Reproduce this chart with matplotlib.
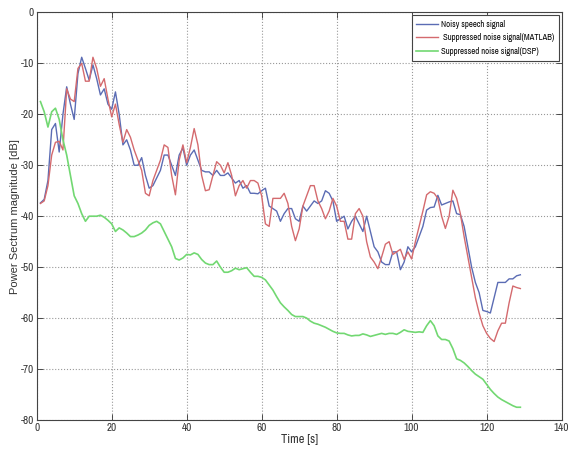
import numpy as np
import matplotlib
matplotlib.use("Agg")
from matplotlib import pyplot as plt

# valores (1 muestra por segundo)
tiempo = list(range(1, 130))

ruidosa = [-37.4, -36.7, -33, -23, -21.8, -27.4, -20, -14.6, -18, -21,
           -12, -8.8, -11, -13.3, -10.3, -13, -16.2, -15, -18, -19,
           -15.6, -20, -26, -25, -27, -30, -30, -28.5, -32, -34.5,
           -34, -32.5, -31, -28, -28, -30, -32, -28, -26.6, -30,
           -28, -27, -29, -31, -31.3, -31.3, -32, -31, -32, -32,
           -31.5, -32.5, -33.5, -33, -34.5, -34, -35.5, -35.5, -35.6, -35,
           -34.5, -38, -38.5, -39, -41, -39.5, -38.5, -38.5, -40.5, -41,
           -38, -39, -38, -37, -37.5, -37, -35, -35.5, -37, -41,
           -40.5, -40, -42.5, -41, -40, -41.5, -43, -40, -43, -46,
           -47, -49, -49.5, -49.5, -47, -47, -50.5, -49, -46, -47,
           -46, -44, -42, -38.8, -38.3, -38.2, -35.9, -37.8, -37.5, -37.2,
           -37, -39.5, -39.7, -42, -46, -50, -53, -55, -58.5, -58.7,
           -59, -56, -53, -53, -53, -52.3, -52.3, -51.7, -51.5]

matlab = [-37.5, -37, -34, -28, -25.5, -25.3, -27, -15, -17, -17.5,
          -11, -10, -13.5, -13.5, -8.8, -11, -14.5, -13, -17, -20.5,
          -18, -22, -25.5, -23, -24.5, -27, -29, -31, -35.5, -36,
          -33, -31, -29, -26, -26.5, -32, -35.8, -29, -26, -29.5,
          -26.5, -22.8, -26, -32, -35, -34.8, -32, -29.3, -30, -31.5,
          -29.5, -32, -36, -34, -33, -34.5, -33, -33, -33.5, -36,
          -41.5, -42, -36.5, -36.5, -36.5, -35.5, -37.5, -42, -44.8, -42.5,
          -38, -36, -34, -34, -37, -38.5, -40.5, -39, -36.5, -38,
          -41, -41, -44.5, -44.5, -39.5, -38.5, -40, -45, -48, -49,
          -50.3, -48, -45.5, -45, -47.5, -47, -46.5, -48.5, -47, -48.4,
          -45, -42, -39, -35.8, -35.2, -35.5, -36.5, -40, -42.4, -40,
          -34.9, -36.5, -39.5, -44, -48, -52, -56, -59, -61.5, -63,
          -64, -64.6, -62.5, -61, -61, -57, -53.7, -54, -54.2]

dsp = [-17.5, -19.5, -22.5, -19.5, -18.8, -21, -25, -28, -32, -36,
       -37.5, -39.5, -41, -40, -40, -40, -39.8, -40.2, -40.8, -41.5,
       -43, -42.3, -42.7, -43.3, -44, -44, -43.7, -43.3, -42.7, -41.8,
       -41.3, -41, -41.5, -43, -44.5, -46, -48.3, -48.6, -48.2, -47.5,
       -47.6, -47.2, -47.5, -48.5, -49.2, -49.5, -49.5, -48.8, -50, -51,
       -51, -50.7, -50.2, -50.5, -50.3, -50.1, -51, -51.8, -51.8, -52,
       -52.5, -53.5, -54.5, -55.8, -57, -57.8, -58.5, -59.3, -59.7, -59.7,
       -59.7, -60, -60.6, -61, -61.2, -61.5, -61.8, -62.2, -62.6, -62.9,
       -63, -63, -63.3, -63.5, -63.4, -63.4, -63.1, -63.3, -63.6, -63.4,
       -63.2, -63, -63.2, -63, -63, -63.2, -62.8, -62.3, -62.6, -62.7,
       -62.8, -62.7, -62.8, -61.5, -60.5, -61.5, -63.5, -64.2, -64.2, -64.5,
       -66, -68, -68.3, -68.8, -69.5, -70.3, -71, -71.5, -72, -73,
       -74, -74.8, -75.5, -76, -76.4, -76.8, -77.2, -77.5, -77.5]

etiquetas = ['Noisy speech signal', ' Suppressed noise signal(MATLAB)',
             'Suppressed noise signal(DSP)']

plt.rcParams['axes.unicode_minus'] = False
fuente_estrecha = ['Liberation Sans Narrow', 'Archivo Narrow', 'DejaVu Sans']

fig = plt.figure(figsize=(5.69, 4.5), dpi=100)
ax = fig.add_axes([0.0645, 0.0667, 0.9225, 0.9057])

ax.plot(tiempo, ruidosa, color='#5b6cb4', lw=1.0, label=etiquetas[0])
ax.plot(tiempo, matlab, color='#d46a6e', lw=1.0, label=etiquetas[1])
ax.plot(tiempo, dsp, color='#72d872', lw=1.2, label=etiquetas[2])

ax.set_xlim(0, 140)
ax.set_ylim(-80, 0)
ax.set_xticks(np.arange(0, 141, 20))
ax.set_yticks(np.arange(-80, 1, 10))
ax.grid(True, linestyle=':', color='#999999', lw=0.8)
ax.tick_params(direction='in', top=True, right=True, length=4, width=0.6,
               labelsize=8, pad=2, colors='#333333')
for lbl in ax.get_xticklabels() + ax.get_yticklabels():
    lbl.set_family(fuente_estrecha)
for s in ax.spines.values():
    s.set_color('#444444')
    s.set_linewidth(0.8)

ax.set_xlabel('Time [s]', fontsize=9, family=fuente_estrecha,
              color='#333333', labelpad=1)
ax.set_ylabel('Power Sectrum magnitude [dB]', fontsize=8, family='Liberation Sans',
              color='#333333')
ax.yaxis.set_label_coords(-0.032, 0.5)

leg = ax.legend(loc='upper right', prop={'family': fuente_estrecha, 'size': 6.2},
                fancybox=False, framealpha=1, edgecolor='#444444',
                handlelength=2.6, handletextpad=0.3, borderaxespad=0.35,
                labelspacing=0.55, borderpad=0.5)
leg.get_frame().set_linewidth(0.8)

fig.savefig('out.png', dpi=100)
